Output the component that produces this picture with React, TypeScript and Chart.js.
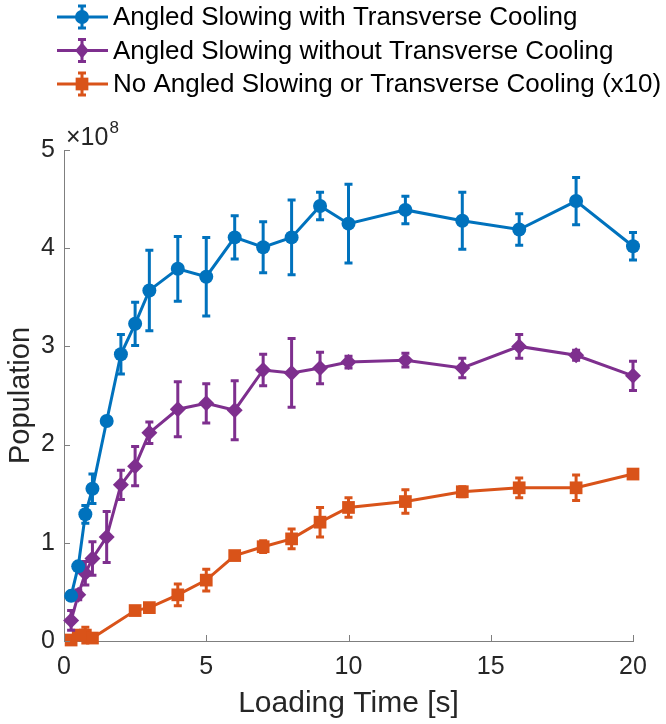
import React, { useEffect, useRef } from 'react';
import { Chart, registerables } from 'chart.js';

Chart.register(...registerables);

// ---------------- data (population in units of 1e8) ----------------
const timesAngled = [0.25, 0.5, 0.75, 1, 1.5, 2, 2.5, 3, 4, 5, 6, 7, 8, 9, 10, 12, 14, 16, 18, 20];
const withTC = [0.46, 0.76, 1.29, 1.55, 2.24, 2.92, 3.23, 3.57, 3.79, 3.71, 4.11, 4.01, 4.11, 4.43, 4.25, 4.39, 4.28, 4.19, 4.48, 4.02];
const withTCErr = [0.03, 0.04, 0.09, 0.15, 0.03, 0.2, 0.22, 0.41, 0.33, 0.4, 0.22, 0.26, 0.38, 0.14, 0.4, 0.14, 0.29, 0.16, 0.24, 0.14];
const withoutTC = [0.21, 0.47, 0.69, 0.84, 1.06, 1.59, 1.78, 2.12, 2.36, 2.42, 2.35, 2.76, 2.73, 2.78, 2.84, 2.86, 2.78, 3.0, 2.91, 2.7];
const withoutTCErr = [0.1, 0.05, 0.12, 0.17, 0.26, 0.15, 0.2, 0.11, 0.28, 0.2, 0.3, 0.16, 0.35, 0.16, 0.06, 0.07, 0.1, 0.12, 0.05, 0.15];
const timesNone = [0.25, 0.5, 0.75, 1, 2.5, 3, 4, 5, 6, 7, 8, 9, 10, 12, 14, 16, 18, 20];
const noneX10 = [0.01, 0.06, 0.06, 0.03, 0.31, 0.34, 0.47, 0.62, 0.87, 0.96, 1.04, 1.21, 1.36, 1.42, 1.52, 1.56, 1.56, 1.7];
const noneX10Err = [0.02, 0.03, 0.08, 0.03, 0.02, 0.03, 0.11, 0.11, 0.04, 0.06, 0.1, 0.15, 0.1, 0.12, 0.05, 0.1, 0.13, 0.04];

const seriesLabels = [
  'Angled Slowing with Transverse Cooling',
  'Angled Slowing without Transverse Cooling',
  'No Angled Slowing or Transverse Cooling (x10)',
];
const seriesColors = ['#0072BD', '#7E2F8E', '#D95319'];
const seriesMarkers = ['circle', 'rectRot', 'rect'];
const markerRadii = [7, 8, 9];

const xTitle = 'Loading Time [s]';
const yTitle = 'Population';
const yExponent = '8';

const FONT = "'Liberation Sans', Arial, Helvetica, sans-serif";
const AXIS_COLOR = '#7f7f7f';
const TEXT_COLOR = '#262626';

function drawMarker(ctx: CanvasRenderingContext2D, style: string, x: number, y: number, r: number) {
  ctx.beginPath();
  if (style === 'circle') {
    ctx.arc(x, y, r, 0, Math.PI * 2);
  } else if (style === 'rectRot') {
    ctx.moveTo(x, y - r);
    ctx.lineTo(x + r * 0.85, y);
    ctx.lineTo(x, y + r);
    ctx.lineTo(x - r * 0.85, y);
    ctx.closePath();
  } else {
    const s = r * Math.SQRT1_2;
    ctx.rect(x - s, y - s, 2 * s, 2 * s);
  }
  ctx.fill();
}

const errorBarPlugin = {
  id: 'errorBars',
  beforeDatasetDraw(chart: any, args: any) {
    const ds = chart.data.datasets[args.index];
    const errs: number[] = ds.errors;
    if (!errs) return;
    const ctx = chart.ctx;
    const xs = chart.scales.x;
    const ys = chart.scales.y;
    ctx.save();
    ctx.strokeStyle = ds.borderColor;
    ctx.lineWidth = 3;
    ds.data.forEach((p: any, i: number) => {
      const px = xs.getPixelForValue(p.x);
      const top = ys.getPixelForValue(p.y + errs[i]);
      const bot = ys.getPixelForValue(p.y - errs[i]);
      ctx.beginPath();
      ctx.moveTo(px, top);
      ctx.lineTo(px, bot);
      ctx.moveTo(px - 4, top);
      ctx.lineTo(px + 4, top);
      ctx.moveTo(px - 4, bot);
      ctx.lineTo(px + 4, bot);
      ctx.stroke();
    });
    ctx.restore();
  },
};

const axisDecorPlugin = {
  id: 'axisDecor',
  afterDraw(chart: any) {
    const ctx = chart.ctx;
    const xs = chart.scales.x;
    const ys = chart.scales.y;
    const area = chart.chartArea;
    ctx.save();
    ctx.strokeStyle = AXIS_COLOR;
    ctx.lineWidth = 1;
    ctx.beginPath();
    xs.ticks.forEach((t: any) => {
      const px = Math.round(xs.getPixelForValue(t.value)) + 0.5;
      ctx.moveTo(px, area.bottom);
      ctx.lineTo(px, area.bottom - 6);
    });
    ys.ticks.forEach((t: any) => {
      const py = Math.round(ys.getPixelForValue(t.value)) + 0.5;
      ctx.moveTo(area.left, py);
      ctx.lineTo(area.left + 6, py);
    });
    ctx.stroke();

    // exponent label
    ctx.fillStyle = TEXT_COLOR;
    ctx.textBaseline = 'alphabetic';
    ctx.textAlign = 'left';
    ctx.font = `25px ${FONT}`;
    const base = area.top - 5;
    const txt = '\u00d710';
    ctx.fillText(txt, area.left + 2, base);
    const w = ctx.measureText(txt).width;
    ctx.font = `17px ${FONT}`;
    ctx.fillText(yExponent, area.left + 3 + w, base - 12);

    // legend
    ctx.font = `26px ${FONT}`;
    ctx.textBaseline = 'middle';
    seriesLabels.forEach((label, i) => {
      const cy = 17 + i * 33.5;
      const col = seriesColors[i];
      ctx.strokeStyle = col;
      ctx.fillStyle = col;
      ctx.lineWidth = 3;
      ctx.beginPath();
      ctx.moveTo(57, cy);
      ctx.lineTo(108, cy);
      ctx.moveTo(82, cy - 11);
      ctx.lineTo(82, cy + 11);
      ctx.moveTo(78, cy - 11);
      ctx.lineTo(86, cy - 11);
      ctx.moveTo(78, cy + 11);
      ctx.lineTo(86, cy + 11);
      ctx.stroke();
      drawMarker(ctx, seriesMarkers[i], 82, cy, markerRadii[i]);
      ctx.fillStyle = '#000000';
      ctx.fillText(label, 113, cy + 1);
    });
    ctx.restore();
  },
};

function toPoints(xs: number[], ys: number[]) {
  return xs.map((x, i) => ({ x, y: ys[i] }));
}

export default function App() {
  const canvasRef = useRef<HTMLCanvasElement | null>(null);

  useEffect(() => {
    document.body.style.margin = '0';
    const canvas = canvasRef.current;
    if (!canvas) return;
    Chart.defaults.font.family = FONT;

    const seriesData = [
      { xs: timesAngled, ys: withTC, err: withTCErr },
      { xs: timesAngled, ys: withoutTC, err: withoutTCErr },
      { xs: timesNone, ys: noneX10, err: noneX10Err },
    ];

    const chart = new Chart(canvas, {
      type: 'line',
      data: {
        datasets: seriesData.map((s, i) => ({
          label: seriesLabels[i],
          data: toPoints(s.xs, s.ys),
          errors: s.err,
          borderColor: seriesColors[i],
          backgroundColor: seriesColors[i],
          pointBackgroundColor: seriesColors[i],
          pointBorderColor: seriesColors[i],
          pointBorderWidth: 0,
          pointStyle: seriesMarkers[i],
          pointRadius: markerRadii[i],
          borderWidth: 3,
          tension: 0,
          fill: false,
          clip: false,
        })) as any,
      },
      options: {
        animation: false,
        responsive: false,
        events: [],
        layout: { padding: { top: 150, right: 33, bottom: 0, left: 0 } },
        plugins: {
          legend: { display: false },
          tooltip: { enabled: false },
        },
        scales: {
          x: {
            type: 'linear',
            min: 0,
            max: 20,
            ticks: { stepSize: 5, color: TEXT_COLOR, font: { size: 25 }, padding: 11, maxRotation: 0 },
            grid: { display: false, drawTicks: false },
            border: { display: true, color: AXIS_COLOR, width: 1 },
            title: {
              display: true,
              text: xTitle,
              color: TEXT_COLOR,
              font: { size: 30 },
              padding: { top: 0, bottom: 2 },
            },
            afterFit: (s: any) => {
              s.height = 83;
            },
          },
          y: {
            type: 'linear',
            min: 0,
            max: 5,
            ticks: { stepSize: 1, color: TEXT_COLOR, font: { size: 25 }, padding: 9 },
            grid: { display: false, drawTicks: false },
            border: { display: true, color: AXIS_COLOR, width: 1 },
            title: {
              display: true,
              text: yTitle,
              color: TEXT_COLOR,
              font: { size: 29 },
              padding: { top: 4, bottom: 0 },
            },
            afterFit: (s: any) => {
              s.width = 64;
            },
          },
        },
      } as any,
      plugins: [errorBarPlugin, axisDecorPlugin],
    });

    return () => chart.destroy();
  }, []);

  return (
    <div style={{ width: 666, height: 724 }}>
      <canvas ref={canvasRef} width={666} height={724} style={{ display: 'block' }} />
    </div>
  );
}
